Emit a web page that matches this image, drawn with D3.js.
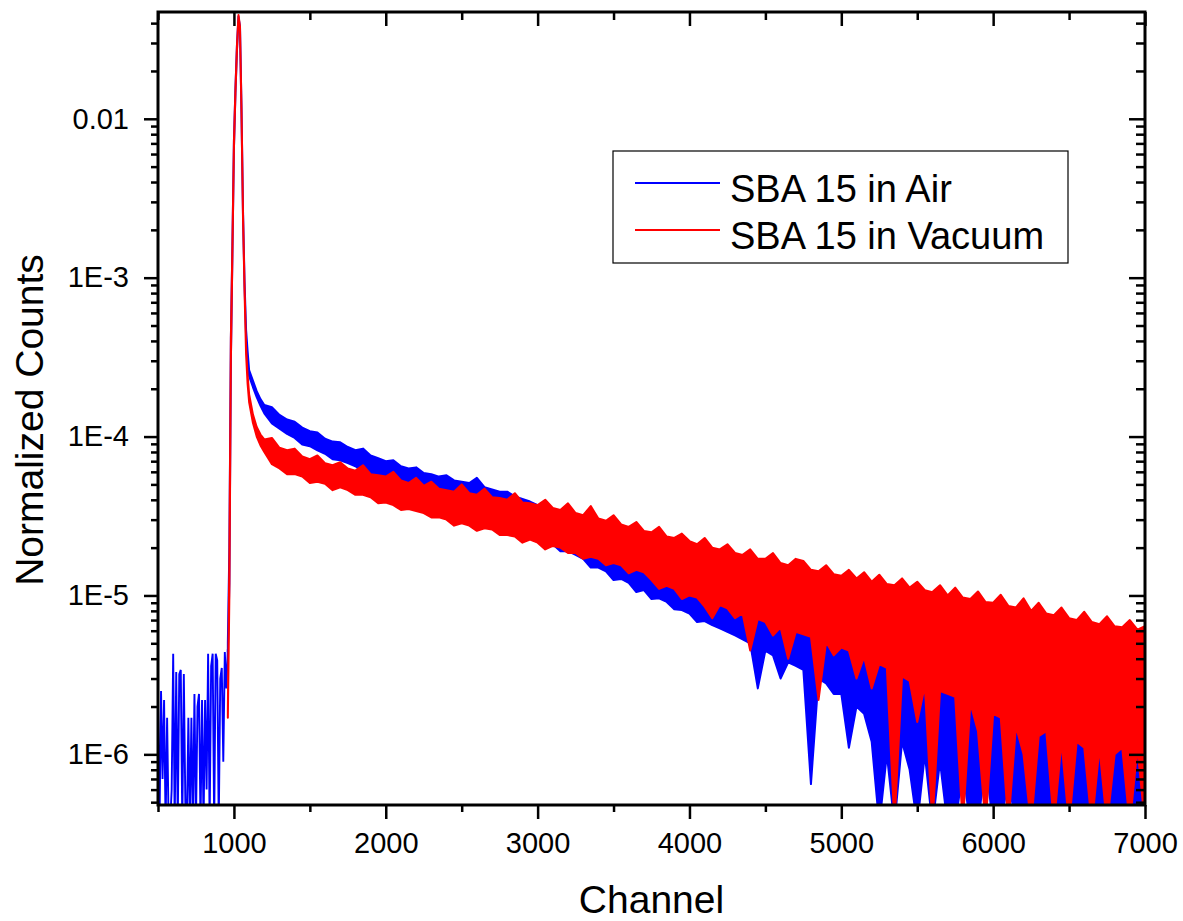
<!DOCTYPE html>
<html>
<head>
<meta charset="utf-8">
<script src="https://cdn.jsdelivr.net/npm/d3@7"></script>
<style>
  body { margin: 0; background: #fff; }
  svg { display: block; font-family: "Liberation Sans", Arial, sans-serif; }
  .tick line { stroke: #000; stroke-width: 2.5; }
  .tick text { fill: #000; font-size: 29px; }
</style>
</head>
<body>
<svg id="chart" width="1183" height="921"></svg>
<script>
// Spectra, counts in units of 1e-6 (0 = below the axis).
// Blue noise before the peak, every 10 channels
var preChannels = [500,510,520,530,540,550,560,570,580,590,600,610,620,630,640,650,660,670,680,690,
  700,710,720,730,740,750,760,770,780,790,800,810,820,830,840,850,860,870,880,890,900,910,920,930,940,950,960];
var airPre = [2.0,0,2.5,0.7,2.2,0,1.7,0,0,0.6,4.3,0,3.3,0,3.2,3.4,0,3.2,0.5,0,
  1.7,0,1.7,0,2.4,0,2.0,2.4,0,2.2,0,2.2,0.6,4.3,0,3.6,4.3,0,4.3,3.9,0,3.0,3.5,0.9,4.4,2.6,4.6];

// peak and tail, low / high edge of the noise band
var channels = [960,970,980,990,1000,1010,1020,1030,1040,1050,1060,1070,1080,1090,1100,1125,1150,1175,1200,
  1250,1300,1350,1400,1450,1500,1550,1600,1650,1700,
  1750,1800,1850,1900,1950,2000,2050,2100,2150,2200,
  2250,2300,2350,2400,2450,2500,2550,2600,2650,2700,
  2750,2800,2850,2900,2950,3000,3050,3100,3150,3200,
  3250,3300,3350,3400,3450,3500,3550,3600,3650,3700,
  3750,3800,3850,3900,3950,4000,4050,4100,4150,4200,
  4250,4300,4350,4400,4450,4500,4550,4600,4650,4700,
  4750,4800,4850,4900,4950,5000,5050,5100,5150,5200,
  5250,5300,5350,5400,5450,5500,5550,5600,5650,5700,
  5750,5800,5850,5900,5950,6000,6050,6100,6150,6200,
  6250,6300,6350,6400,6450,6500,6550,6600,6650,6700,
  6750,6800,6850,6900,6950,7000];

var airLow = [4.4,12,300,1400,6500,14500,27000,42000,36000,10500,2400,880,430,315,240,205,177,156,140,
  121,112,104,98,89,87,82,78,72,71,
  68,65,60,59,57,53,52,50,46,46.5,
  45,43,41.5,40,37,37.5,36.5,35,32,32.5,
  31,29.5,27,26.5,25,22.5,22,21,19,19,
  18,17,15,15,14.2,12.5,12.7,12,10.5,10.8,
  9.5,9.6,9.1,8.2,8.1,7.7,6.8,6.9,6.5,6.2,
  5.9,5.6,5.3,5.0,2.6,4.5,4.2,3.0,3.8,3.6,
  3.4,0.65,3.0,2.8,2.4,2.4,1.1,2.0,1.8,1.2,
  0,1.0,0,1.2,0.8,0,1.0,0,0.9,0,
  0,0.8,0,0,0.9,0,0,0.7,0,0,
  0,0,0,0,0,0,0,0,0,0,
  0,0,0,0,0,0];
var airHigh = [5.0,20,420,1600,7200,15500,29000,44000,38000,11500,2600,940,470,345,262,225,193,172,158,
  153,137,128,124,114,108,106,97,93,92,
  86,82,84,76,73,70,71,65,63,64,
  59,58,56,57,53,52,51,55,48,46.5,
  45,45,42,40.5,39,37,37,33.5,32,30.5,
  29,27.5,26,26.5,23.5,22.5,21.5,20.5,20.5,18.5,
  18,16.8,16,15.3,15.5,14,13.5,13,12.5,12,
  11.6,11.2,10.8,10.4,10,9.6,9.2,8.8,8.5,8.2,
  7.9,7.6,7.3,7.0,6.7,6.4,6.1,5.9,5.7,5.5,
  5.6,5.4,5.2,5.0,4.8,4.7,4.6,4.5,4.4,4.3,
  4.3,4.2,4.2,4.1,4.0,4.0,4.0,3.9,3.9,3.8,
  3.8,3.7,3.7,3.6,3.6,3.5,3.5,3.4,3.4,3.3,
  3.3,3.2,3.2,3.1,3.1,3.0];

var vacLow = [1.7,10,300,1400,6500,14500,27000,43000,36000,10500,2300,820,330,215,165,122,100,88,80,
  67,63,58,58,56,51,52,50.5,46,48,
  46,43,43,41.5,38,38.5,37,34.5,35,34,
  33,31,31,30,27.5,28.5,27.5,25.5,26.5,26,
  24,24,23.5,21.5,22.5,21.5,19.5,20.5,20,18.5,
  18.5,17,17.5,17,15.5,16,15.5,13.8,14.5,14,
  12.5,11,11.5,11,9.5,10,9.7,8.5,7.2,8.7,
  8.3,7.2,7.7,4.5,7.1,6.8,5.6,6.3,4.0,5.9,
  5.7,5.5,2.2,5.1,4.2,4.7,4.5,3.0,4.1,2.6,
  3.7,3.5,0,3.1,2.9,1.6,2.7,0,2.5,2.4,
  2.3,0,2.1,1.4,0,1.8,1.7,0,1.5,1.0,
  0,1.3,1.4,0,1.2,0,1.2,1.1,0,1.1,
  0,1.0,1.1,0,1.1,0];
var vacHigh = [1.9,18,420,1600,7200,15500,29000,45000,38000,11500,2500,880,365,245,185,138,115,103,96,
  98,85,82,84,75,72,76,68,66,69,
  63,61,66,58,57,56,60,53,51,55,
  49,52,47,46,45,50,44,43,47,41.5,
  41,40,44,38.5,38,37,40,35.5,34.5,38,
  33,32,36.5,30.5,29.5,32,28,27,29,25.5,
  25,27,23.5,23,24.5,22,21,23,20,19.5,
  21,18.5,18,19.5,17,17,18.5,16,15.5,17,
  16.5,14.5,14.2,15.5,13.6,13.3,14.5,12.8,14,12.2,
  13.5,11.8,11.6,12.8,11.2,12.2,10.8,10.5,11.6,10,
  11.2,9.7,9.5,10.6,9.1,9.0,10.1,8.6,8.4,9.6,
  8.0,9.0,7.7,7.5,8.4,7.2,7.0,7.9,6.8,6.6,
  7.4,6.4,6.3,7.0,6.1,6.4];

var UNIT = 1e-6;
var xMajor = [1000,2000,3000,4000,5000,6000,7000];
var xMinor = [500,1500,2500,3500,4500,5500,6500];
var yMajor = [1e-2,1e-3,1e-4,1e-5,1e-6];
var yLabels = ["0.01","1E-3","1E-4","1E-5","1E-6"];
var seriesNames = ["SBA 15 in Air","SBA 15 in Vacuum"];
var seriesColors = ["#0000ff","#ff0000"];

var plot = { left: 158, right: 1145, top: 12, bottom: 805 };

var svg = d3.select("#chart");

var x = d3.scaleLinear().domain([500, 7000]).range([plot.left, plot.right]);
var y = d3.scaleLog().domain([4.8e-7, 0.047]).range([plot.bottom, plot.top]);

// zero counts sit below the frame, the clip cuts them off
function yv(v) { return v > 0 ? y(v * UNIT) : plot.bottom + 20; }

svg.append("clipPath").attr("id", "clip")
  .append("rect")
    .attr("x", plot.left).attr("y", plot.top)
    .attr("width", plot.right - plot.left).attr("height", plot.bottom - plot.top);

var data = svg.append("g").attr("clip-path", "url(#clip)");

// blue before the peak
data.append("path")
    .attr("d", d3.line()
      .x(function(d, i) { return x(preChannels[i]); })
      .y(function(d) { return yv(d); })(airPre))
    .attr("fill", "none")
    .attr("stroke", seriesColors[0])
    .attr("stroke-width", 1.9);

function band(lo, hi) {
  return d3.area()
    .x(function(d, i) { return x(channels[i]); })
    .y0(function(d, i) { return yv(lo[i]); })
    .y1(function(d, i) { return yv(hi[i]); })(channels);
}

[[airLow, airHigh], [vacLow, vacHigh]].forEach(function(s, k) {
  data.append("path")
      .attr("d", band(s[0], s[1]))
      .attr("fill", seriesColors[k])
      .attr("stroke", seriesColors[k])
      .attr("stroke-width", 2)
      .attr("stroke-linejoin", "round");
});

// ticks
var yMinor = y.ticks().filter(function(v) {
  var e = Math.log10(v);
  return Math.abs(e - Math.round(e)) > 1e-6;
});

function tickGroup(axis, tr) {
  var g = svg.append("g").attr("transform", tr).call(axis);
  g.select(".domain").remove();
  return g;
}

tickGroup(d3.axisBottom(x).tickValues(xMajor).tickSize(14).tickPadding(13).tickFormat(d3.format("d")),
  "translate(0," + plot.bottom + ")");
tickGroup(d3.axisBottom(x).tickValues(xMinor).tickSize(7).tickFormat(""),
  "translate(0," + plot.bottom + ")");
tickGroup(d3.axisTop(x).tickValues(xMajor).tickSize(-14).tickFormat(""),
  "translate(0," + plot.top + ")");
tickGroup(d3.axisTop(x).tickValues(xMinor).tickSize(-8).tickFormat(""),
  "translate(0," + plot.top + ")");

tickGroup(d3.axisLeft(y).tickValues(yMajor).tickSize(14).tickPadding(15)
    .tickFormat(function(d, i) { return yLabels[i]; }),
  "translate(" + plot.left + ",0)");
tickGroup(d3.axisLeft(y).tickValues(yMinor).tickSize(7).tickFormat(""),
  "translate(" + plot.left + ",0)");
tickGroup(d3.axisRight(y).tickValues(yMajor).tickSize(-16).tickFormat(""),
  "translate(" + plot.right + ",0)");
tickGroup(d3.axisRight(y).tickValues(yMinor).tickSize(-9).tickFormat(""),
  "translate(" + plot.right + ",0)");

// frame
svg.append("rect")
    .attr("x", plot.left).attr("y", plot.top)
    .attr("width", plot.right - plot.left).attr("height", plot.bottom - plot.top)
    .attr("fill", "none").attr("stroke", "#000").attr("stroke-width", 3);

// axis titles
svg.append("text")
    .attr("x", (plot.left + plot.right) / 2).attr("y", 913)
    .attr("text-anchor", "middle").attr("font-size", 39)
    .text("Channel");
svg.append("text")
    .attr("transform", "translate(43," + 420 + ") rotate(-90)")
    .attr("text-anchor", "middle").attr("font-size", 39)
    .text("Normalized Counts");

// legend
var legend = svg.append("g");
legend.append("rect")
    .attr("x", 613).attr("y", 151).attr("width", 455).attr("height", 112)
    .attr("fill", "#fff").attr("stroke", "#000").attr("stroke-width", 1.2);
seriesNames.forEach(function(name, i) {
  var cy = 183 + i * 47;
  legend.append("line")
      .attr("x1", 635).attr("x2", 720).attr("y1", cy).attr("y2", cy)
      .attr("stroke", seriesColors[i]).attr("stroke-width", 2.2);
  legend.append("text")
      .attr("x", 730).attr("y", cy + 19)
      .attr("font-size", 38)
      .text(name);
});
</script>
</body>
</html>
